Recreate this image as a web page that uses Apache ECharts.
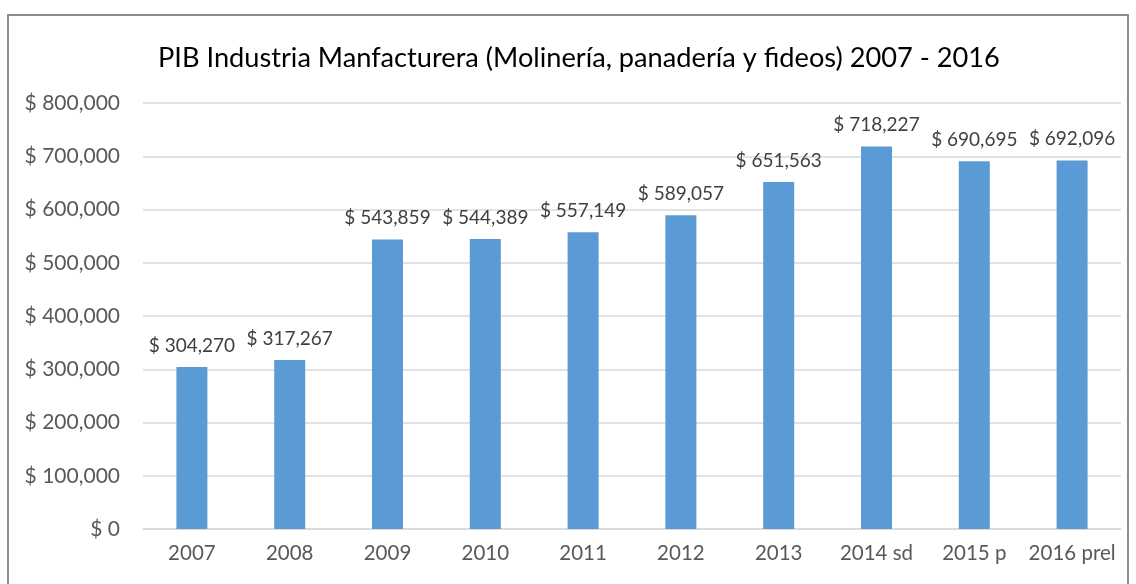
<!DOCTYPE html>
<html>
<head>
<meta charset="utf-8">
<script src="https://cdn.jsdelivr.net/npm/echarts@6/dist/echarts.min.js"></script>
<style>
  html, body { margin: 0; padding: 0; background: #fff; }
  #chart { width: 1136px; height: 584px; }
</style>
</head>
<body>
<div id="chart"></div>
<script>
// datos
const categories = ['2007', '2008', '2009', '2010', '2011', '2012', '2013', '2014 sd', '2015 p', '2016 prel'];
const pibValues = [304270, 317267, 543859, 544389, 557149, 589057, 651563, 718227, 690695, 692096];
const yTicks = [0, 100000, 200000, 300000, 400000, 500000, 600000, 700000, 800000];

const fontFamily = 'Lato, "Open Sans", sans-serif';
const money = v => '$ ' + Number(v).toLocaleString('en-US');

const chart = echarts.init(document.getElementById('chart'));
chart.setOption({
  animation: false,
  textStyle: { fontFamily: fontFamily },
  title: {
    text: 'PIB Industria Manfacturera (Molinería, panadería y fideos) 2007 - 2016',
    left: 153,
    top: 40,
    textStyle: { fontFamily: fontFamily, fontSize: 27.2, fontWeight: 'normal', color: '#000' }
  },
  graphic: [{
    type: 'rect',
    silent: true,
    shape: { x: 8, y: 15, width: 1120, height: 600 },
    style: { fill: 'none', stroke: '#8c8c8c', lineWidth: 2 }
  }],
  grid: { left: 143, right: 15, top: 103, bottom: 55 },
  xAxis: {
    type: 'category',
    data: categories,
    axisLine: { lineStyle: { color: '#d9d9d9', width: 1.5 } },
    axisTick: { show: false },
    axisLabel: { interval: 0, color: '#595959', fontSize: 20.5, margin: 14, fontFamily: fontFamily }
  },
  yAxis: {
    type: 'value',
    min: yTicks[0],
    max: yTicks[yTicks.length - 1],
    interval: yTicks[1] - yTicks[0],
    axisLine: { show: false },
    axisTick: { show: false },
    splitLine: { lineStyle: { color: '#d9d9d9', width: 1.5 } },
    axisLabel: { color: '#595959', fontSize: 21, margin: 23, formatter: money, fontFamily: fontFamily }
  },
  series: [{
    type: 'bar',
    data: pibValues,
    barWidth: 31,
    itemStyle: { color: '#5b9bd5' },
    label: {
      show: true,
      position: 'top',
      distance: 12,
      color: '#404040',
      fontSize: 19,
      fontFamily: fontFamily,
      formatter: p => money(p.value)
    }
  }]
});
</script>
</body>
</html>
